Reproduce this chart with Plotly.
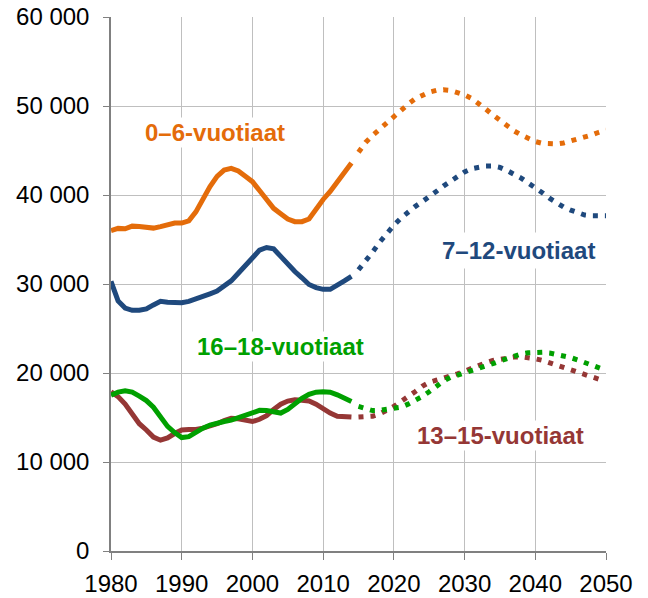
import plotly.graph_objects as go

years_hist = list(range(1980, 2015))
years_proj = list(range(2015, 2051))

age0_6_hist = [36000, 36250, 36200, 36500, 36450, 36300, 36280, 36450, 36700, 36850,
               36850, 37100, 38100, 39600, 40950, 42100, 42800, 43000, 42700, 42100,
               41500, 40500, 39400, 38500, 37900, 37300, 37000, 37000, 37300, 38500,
               39500, 40400, 41400, 42500, 43600]
age0_6_proj = [44800, 45900, 46700, 47400, 48100, 48900, 49500, 50200, 50800, 51250,
               51550, 51750, 51830, 51750, 51570, 51250, 50850, 50300, 49650, 49000,
               48400, 47750, 47200, 46750, 46300, 46000, 45800, 45730, 45740, 45850,
               46050, 46220, 46480, 46750, 47050, 47300]

age7_12_hist = [30300, 28100, 27300, 27050, 27050, 27200, 27650, 28050, 27950, 27880,
                27900, 28050, 28300, 28600, 28900, 29200, 29700, 30350, 31200, 32100,
                33000, 33800, 34100, 33950, 33100, 32200, 31400, 30700, 29950, 29600,
                29400, 29400, 29800, 30350, 30850]
age7_12_proj = [31600, 32550, 33600, 34700, 35700, 36600, 37400, 38100, 38700, 39250,
                39750, 40400, 41000, 41550, 42150, 42600, 42950, 43170, 43250, 43260,
                43100, 42750, 42350, 41900, 41350, 40850, 40250, 39650, 39100, 38650,
                38300, 37970, 37750, 37670, 37650, 37660]

age13_15_hist = [17900, 17350, 16500, 15500, 14300, 13600, 12800, 12450, 12700, 13200,
                 13600, 13650, 13650, 13800, 14000, 14300, 14650, 14900, 14850, 14650,
                 14550, 14800, 15200, 15900, 16500, 16850, 17000, 16950, 16850, 16500,
                 15950, 15500, 15150, 15080, 15050]
age13_15_proj = [15050, 15050, 15150, 15400, 15760, 16250, 16800, 17300, 17900, 18500,
                 18950, 19200, 19400, 19600, 19900, 20200, 20550, 20900, 21150, 21400,
                 21570, 21720, 21800, 21820, 21750, 21600, 21420, 21150, 20900, 20650,
                 20370, 20100, 19800, 19520, 19300]

age16_18_hist = [17500, 17850, 18000, 17850, 17400, 16900, 16150, 15100, 14000, 13300,
                 12750, 12850, 13350, 13800, 14150, 14400, 14550, 14700, 15000, 15300,
                 15600, 15800, 15780, 15600, 15500, 15900, 16600, 17150, 17600, 17850,
                 17900, 17850, 17550, 17150, 16800]
age16_18_proj = [16250, 15950, 15780, 15800, 15880, 15960, 16150, 16500, 16900, 17350,
                 17900, 18500, 19100, 19500, 19750, 19950, 20180, 20500, 20780, 21050,
                 21350, 21620, 21900, 22130, 22270, 22330, 22330, 22250, 22100, 21900,
                 21730, 21470, 21180, 20920, 20600, 20290]

series_names = ["0–6-vuotiaat", "7–12-vuotiaat", "13–15-vuotiaat", "16–18-vuotiaat"]
colors = ["#E46C0A", "#1F497D", "#953735", "#00A000"]

y_tickvals = [0, 10000, 20000, 30000, 40000, 50000, 60000]
y_ticktext = ["0", "10 000", "20 000", "30 000", "40 000", "50 000", "60 000"]
x_tickvals = [1980, 1990, 2000, 2010, 2020, 2030, 2040, 2050]

hist = [age0_6_hist, age7_12_hist, age13_15_hist, age16_18_hist]
proj = [age0_6_proj, age7_12_proj, age13_15_proj, age16_18_proj]

fig = go.Figure()
for name, col, h, p in zip(series_names, colors, hist, proj):
    fig.add_trace(go.Scatter(x=years_hist, y=h, mode="lines", name=name,
                             line=dict(color=col, width=5), showlegend=False,
                             cliponaxis=False))
    fig.add_trace(go.Scatter(x=years_proj[:len(p)], y=p, mode="lines", name=name,
                             line=dict(color=col, width=5, dash="5px,7px"),
                             showlegend=False, cliponaxis=False))

label_font = "Arial, 'Liberation Sans', sans-serif"
ann = [
    (series_names[0], 1994.75, 47000, colors[0], 1),
    (series_names[1], 2037.6, 33780, colors[1], 4),
    (series_names[3], 2003.9, 22990, colors[3], 1),
    (series_names[2], 2035.1, 12990, colors[2], 1),
]
for text, x, y, col, pad in ann:
    fig.add_annotation(x=x, y=y, text=text, showarrow=False,
                       font=dict(family=label_font, size=24, color=col, weight="bold"),
                       bgcolor="white", borderpad=pad, xanchor="center", yanchor="middle")

fig.update_layout(
    width=640, height=590,
    margin=dict(l=103, r=42, t=9, b=47),
    paper_bgcolor="white", plot_bgcolor="white",
    font=dict(family=label_font, size=24, color="black"),
    showlegend=False,
)
fig.update_xaxes(range=[1980, 2050], tickvals=x_tickvals, automargin=False,
                 showgrid=True, gridcolor="#BFBFBF", gridwidth=1,
                 showline=True, linecolor="#808080", linewidth=1.5,
                 ticks="outside", ticklen=7, tickcolor="#808080",
                 ticklabelstandoff=3, ticklabeloverflow="allow", zeroline=False)
fig.update_yaxes(range=[0, 60000], tickvals=y_tickvals, ticktext=y_ticktext, automargin=False,
                 showgrid=True, gridcolor="#BFBFBF", gridwidth=1,
                 showline=True, linecolor="#808080", linewidth=1.5,
                 ticks="outside", ticklen=6, tickcolor="#808080",
                 ticklabelstandoff=9, ticklabeloverflow="allow", zeroline=False)

fig.write_html("out.html")
